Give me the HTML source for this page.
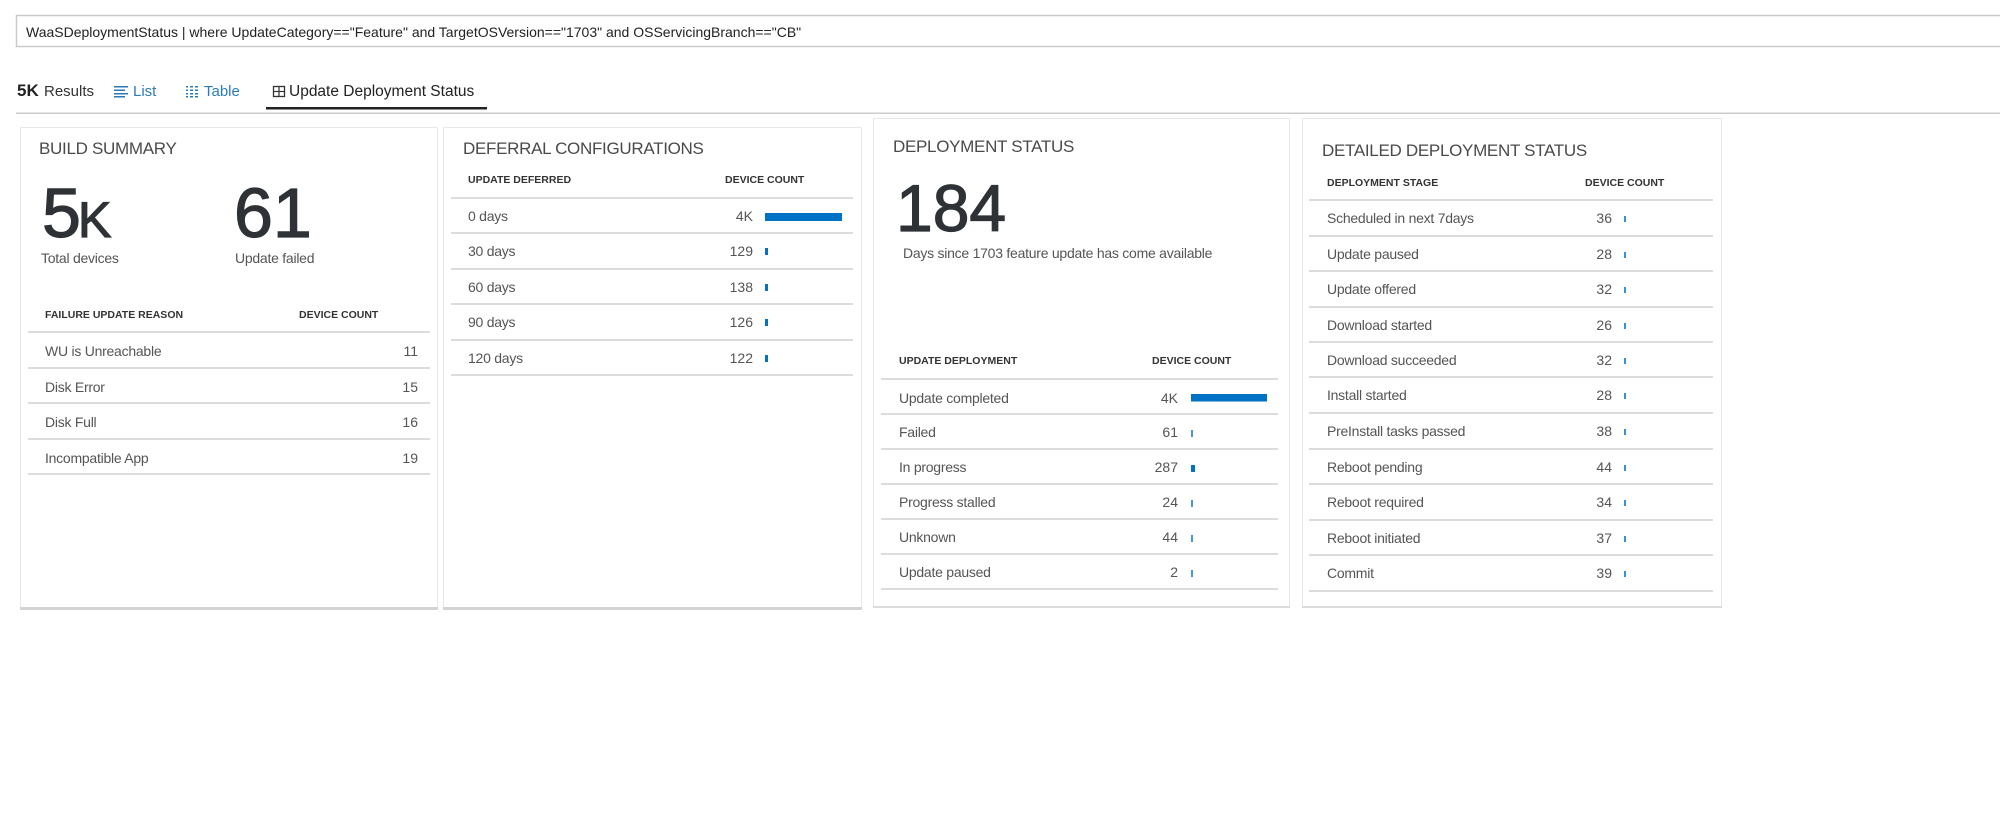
<!DOCTYPE html>
<html><head><meta charset="utf-8"><title>Update Deployment Status</title><style>
html,body{margin:0;padding:0;background:#fff;width:2000px;height:836px;overflow:hidden}
svg{display:block}
text{font-family:"Liberation Sans",Arial,sans-serif}
.t{font-size:17px;fill:#4a4a4a;letter-spacing:-0.3px}
.h{font-size:10.5px;font-weight:bold;fill:#333}
.r{font-size:14px;fill:#555;letter-spacing:-0.25px}
.n{font-size:14px;fill:#555;text-anchor:end}
.big{fill:#2e3236;stroke:#2e3236;stroke-width:1.2}
.ln{fill:#dcdcdc}
</style></head><body>
<svg width="2000" height="836" viewBox="0 0 2000 836" xmlns="http://www.w3.org/2000/svg">
<rect x="0" y="0" width="2000" height="836" fill="#fff"/>

<!-- query box -->
<rect x="16.5" y="15.5" width="2000" height="31" fill="#fff" stroke="#cacaca" stroke-width="1.5"/>
<text x="26" y="37" style="font-size:14px;fill:#222">WaaSDeploymentStatus | where UpdateCategory=="Feature" and TargetOSVersion=="1703" and OSServicingBranch=="CB"</text>

<!-- tabs -->
<text x="17" y="96" style="font-size:17px;font-weight:bold;fill:#222">5K</text>
<text x="44" y="96" style="font-size:15px;fill:#333">Results</text>
<rect x="114" y="86" width="14" height="1.5" fill="#2a7ab9"/>
<rect x="114" y="89.5" width="11" height="1.5" fill="#2a7ab9"/>
<rect x="114" y="93" width="14" height="1.5" fill="#2a7ab9"/>
<rect x="114" y="96" width="11" height="1.5" fill="#2a7ab9"/>
<text x="133" y="96" style="font-size:15px;fill:#2a7ab9">List</text>
<g fill="#2a7ab9">
<rect x="186" y="86" width="2" height="1.5"/><rect x="190" y="86" width="3" height="1.5"/><rect x="195" y="86" width="3" height="1.5"/>
<rect x="186" y="89.5" width="2" height="1.5"/><rect x="190" y="89.5" width="3" height="1.5"/><rect x="195" y="89.5" width="3" height="1.5"/>
<rect x="186" y="93" width="2" height="1.5"/><rect x="190" y="93" width="3" height="1.5"/><rect x="195" y="93" width="3" height="1.5"/>
<rect x="186" y="96" width="2" height="1.5"/><rect x="190" y="96" width="3" height="1.5"/><rect x="195" y="96" width="3" height="1.5"/>
</g>
<text x="204" y="96" style="font-size:15px;fill:#2a7ab9">Table</text>
<rect x="273.5" y="86.5" width="11" height="10" fill="none" stroke="#333" stroke-width="1.3"/>
<line x1="273.5" y1="91.5" x2="284.5" y2="91.5" stroke="#333" stroke-width="1.2"/>
<line x1="279" y1="86.5" x2="279" y2="96.5" stroke="#333" stroke-width="1.2"/>
<text x="289" y="96" style="font-size:15.5px;fill:#222">Update Deployment Status</text>
<rect x="266" y="107" width="221" height="2.5" fill="#222"/>
<rect x="16" y="112.5" width="1984" height="1.5" fill="#cccccc"/>

<!-- CARD 1 -->
<rect x="20.5" y="127.5" width="417" height="480" fill="#fff" stroke="#e8e8e8"/>
<rect x="20" y="607" width="418" height="3" fill="#d3d3d3"/>
<text x="39" y="154" class="t">BUILD SUMMARY</text>
<text x="42" y="237" class="big" style="font-size:70px">5</text>
<text x="78" y="237" class="big" style="font-size:50px">K</text>
<text x="234" y="237" class="big" style="font-size:70px">61</text>
<text x="41" y="263" class="r">Total devices</text>
<text x="235" y="263" class="r">Update failed</text>
<text x="45" y="318" class="h">FAILURE UPDATE REASON</text>
<text x="299" y="318" class="h">DEVICE COUNT</text>
<rect x="28" y="331" width="402" height="2" class="ln"/>
<text x="45" y="356" class="r">WU is Unreachable</text><text x="418" y="356" class="n">11</text>
<rect x="28" y="367" width="402" height="2" class="ln"/>
<text x="45" y="392" class="r">Disk Error</text><text x="418" y="392" class="n">15</text>
<rect x="28" y="402" width="402" height="2" class="ln"/>
<text x="45" y="427" class="r">Disk Full</text><text x="418" y="427" class="n">16</text>
<rect x="28" y="438" width="402" height="2" class="ln"/>
<text x="45" y="463" class="r">Incompatible App</text><text x="418" y="463" class="n">19</text>
<rect x="28" y="473" width="402" height="2" class="ln"/>

<!-- CARD 2 -->
<rect x="443.5" y="127.5" width="418" height="480" fill="#fff" stroke="#e8e8e8"/>
<rect x="443" y="607" width="419" height="3" fill="#d3d3d3"/>
<text x="463" y="154" class="t">DEFERRAL CONFIGURATIONS</text>
<text x="468" y="183" class="h">UPDATE DEFERRED</text>
<text x="725" y="183" class="h">DEVICE COUNT</text>
<rect x="451" y="197" width="402" height="2" class="ln"/>
<text x="468" y="221" class="r">0 days</text><text x="753" y="221" class="n">4K</text>
<rect x="765" y="213" width="77" height="8" fill="#0072c6"/>
<rect x="451" y="232" width="402" height="2" class="ln"/>
<text x="468" y="256" class="r">30 days</text><text x="753" y="256" class="n">129</text>
<rect x="765" y="248" width="3" height="7" fill="#0a6ec4"/>
<rect x="451" y="268" width="402" height="2" class="ln"/>
<text x="468" y="292" class="r">60 days</text><text x="753" y="292" class="n">138</text>
<rect x="765" y="284" width="3" height="7" fill="#0a6ec4"/>
<rect x="451" y="303" width="402" height="2" class="ln"/>
<text x="468" y="327" class="r">90 days</text><text x="753" y="327" class="n">126</text>
<rect x="765" y="319" width="3" height="7" fill="#0a6ec4"/>
<rect x="451" y="339" width="402" height="2" class="ln"/>
<text x="468" y="363" class="r">120 days</text><text x="753" y="363" class="n">122</text>
<rect x="765" y="355" width="3" height="7" fill="#0a6ec4"/>
<rect x="451" y="374" width="402" height="2" class="ln"/>

<!-- CARD 3 -->
<rect x="873.5" y="118.5" width="416" height="488" fill="#fff" stroke="#e8e8e8"/>
<rect x="873" y="606" width="417" height="2" fill="#dcdcdc"/>
<text x="893" y="152" class="t">DEPLOYMENT STATUS</text>
<text x="896" y="231" class="big" style="font-size:66px">184</text>
<text x="903" y="258" class="r">Days since 1703 feature update has come available</text>
<text x="899" y="364" class="h">UPDATE DEPLOYMENT</text>
<text x="1152" y="364" class="h">DEVICE COUNT</text>
<rect x="881" y="378" width="397" height="2" class="ln"/>
<text x="899" y="403" class="r">Update completed</text><text x="1178" y="403" class="n">4K</text>
<rect x="1191" y="394" width="76" height="7.5" fill="#0072c6"/>
<rect x="881" y="413" width="397" height="2" class="ln"/>
<text x="899" y="437" class="r">Failed</text><text x="1178" y="437" class="n">61</text>
<rect x="1191" y="430" width="2" height="7" fill="#4a96d8"/>
<rect x="881" y="448" width="397" height="2" class="ln"/>
<text x="899" y="472" class="r">In progress</text><text x="1178" y="472" class="n">287</text>
<rect x="1191" y="465" width="4" height="7" fill="#0072c6"/>
<rect x="881" y="483" width="397" height="2" class="ln"/>
<text x="899" y="507" class="r">Progress stalled</text><text x="1178" y="507" class="n">24</text>
<rect x="1191" y="500" width="2" height="7" fill="#4a96d8"/>
<rect x="881" y="518" width="397" height="2" class="ln"/>
<text x="899" y="542" class="r">Unknown</text><text x="1178" y="542" class="n">44</text>
<rect x="1191" y="535" width="2" height="7" fill="#4a96d8"/>
<rect x="881" y="553" width="397" height="2" class="ln"/>
<text x="899" y="577" class="r">Update paused</text><text x="1178" y="577" class="n">2</text>
<rect x="1191" y="570" width="2" height="7" fill="#4a96d8"/>
<rect x="881" y="588" width="397" height="2" class="ln"/>

<!-- CARD 4 -->
<rect x="1302.5" y="118.5" width="419" height="488" fill="#fff" stroke="#e8e8e8"/>
<rect x="1302" y="606" width="420" height="2" fill="#dcdcdc"/>
<text x="1322" y="156" class="t">DETAILED DEPLOYMENT STATUS</text>
<text x="1327" y="186" class="h">DEPLOYMENT STAGE</text>
<text x="1585" y="186" class="h">DEVICE COUNT</text>
<rect x="1309" y="199" width="404" height="2" class="ln"/>
<text x="1327" y="223" class="r">Scheduled in next 7days</text><text x="1612" y="223" class="n">36</text>
<rect x="1624" y="216" width="2" height="6" fill="#3b8fd6"/>
<rect x="1309" y="235" width="404" height="2" class="ln"/>
<text x="1327" y="259" class="r">Update paused</text><text x="1612" y="259" class="n">28</text>
<rect x="1624" y="252" width="2" height="6" fill="#3b8fd6"/>
<rect x="1309" y="270" width="404" height="2" class="ln"/>
<text x="1327" y="294" class="r">Update offered</text><text x="1612" y="294" class="n">32</text>
<rect x="1624" y="287" width="2" height="6" fill="#3b8fd6"/>
<rect x="1309" y="306" width="404" height="2" class="ln"/>
<text x="1327" y="330" class="r">Download started</text><text x="1612" y="330" class="n">26</text>
<rect x="1624" y="323" width="2" height="6" fill="#3b8fd6"/>
<rect x="1309" y="341" width="404" height="2" class="ln"/>
<text x="1327" y="365" class="r">Download succeeded</text><text x="1612" y="365" class="n">32</text>
<rect x="1624" y="358" width="2" height="6" fill="#3b8fd6"/>
<rect x="1309" y="376" width="404" height="2" class="ln"/>
<text x="1327" y="400" class="r">Install started</text><text x="1612" y="400" class="n">28</text>
<rect x="1624" y="393" width="2" height="6" fill="#3b8fd6"/>
<rect x="1309" y="412" width="404" height="2" class="ln"/>
<text x="1327" y="436" class="r">PreInstall tasks passed</text><text x="1612" y="436" class="n">38</text>
<rect x="1624" y="429" width="2" height="6" fill="#3b8fd6"/>
<rect x="1309" y="448" width="404" height="2" class="ln"/>
<text x="1327" y="472" class="r">Reboot pending</text><text x="1612" y="472" class="n">44</text>
<rect x="1624" y="465" width="2" height="6" fill="#3b8fd6"/>
<rect x="1309" y="483" width="404" height="2" class="ln"/>
<text x="1327" y="507" class="r">Reboot required</text><text x="1612" y="507" class="n">34</text>
<rect x="1624" y="500" width="2" height="6" fill="#3b8fd6"/>
<rect x="1309" y="519" width="404" height="2" class="ln"/>
<text x="1327" y="543" class="r">Reboot initiated</text><text x="1612" y="543" class="n">37</text>
<rect x="1624" y="536" width="2" height="6" fill="#3b8fd6"/>
<rect x="1309" y="554" width="404" height="2" class="ln"/>
<text x="1327" y="578" class="r">Commit</text><text x="1612" y="578" class="n">39</text>
<rect x="1624" y="571" width="2" height="6" fill="#3b8fd6"/>
<rect x="1309" y="590" width="404" height="2" class="ln"/>
</svg>
</body></html>
